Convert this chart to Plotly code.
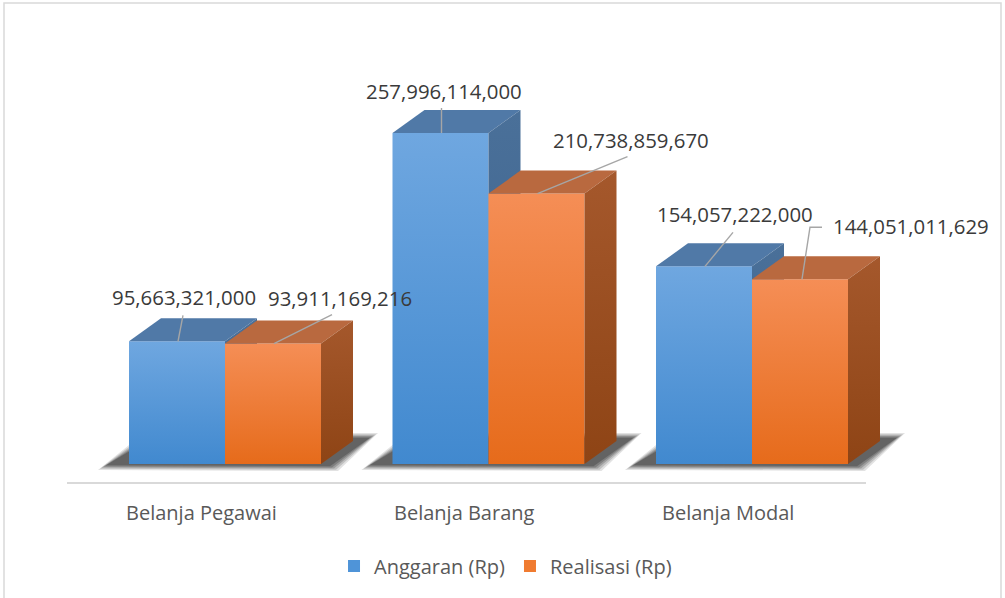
import plotly.graph_objects as go

# ---------------- data ----------------
categories = ["Belanja Pegawai", "Belanja Barang", "Belanja Modal"]
series_names = ["Anggaran (Rp)", "Realisasi (Rp)"]
anggaran = [95663321000, 257996114000, 154057222000]
realisasi = [93911169216, 210738859670, 144051011629]

# ---------------- layout / style constants ----------------
W, H = 1005, 598
PX_PER_X = 263.5          # pixels per category step
X0_PX = 225               # pixel of category 0
Y_PER_PX = 0.7794e9       # value units per pixel
Y0_PX = 464               # pixel of value 0
BAR_W_PX = 96
DEPTH_DX, DEPTH_DY = 32, 23

x_range = [(0 - X0_PX) / PX_PER_X, (W - X0_PX) / PX_PER_X]
y_range = [-(H - Y0_PX) * Y_PER_PX, Y0_PX * Y_PER_PX]

def ox(px):  # pixel offset -> x units
    return px / PX_PER_X

def oy(px):  # pixel offset (upward) -> y units
    return px * Y_PER_PX

def pxx(p):
    return (p - X0_PX) / PX_PER_X

def pxy(p):
    return (Y0_PX - p) * Y_PER_PX

styles = {
    "Anggaran (Rp)": dict(front=("#4189cf", "#6fa7e0"), top="#5079a7",
                          side=("#3b618d", "#4a7099"), legend="#4f94d8"),
    "Realisasi (Rp)": dict(front=("#e66b1b", "#f58e56"), top="#b9693f",
                           side=("#8e4415", "#a5582c"), legend="#f07b30"),
}

# label offsets (px, relative to bar top-centre), leader line point offsets
label_style = [
    {"s": 0, "c": 0, "lab": (7, -44), "path": [(6, -26), (1, 0)]},
    {"s": 1, "c": 0, "lab": (67, -46), "path": [(59, -29), (1, 0)]},
    {"s": 0, "c": 1, "lab": (3, -42), "path": [(1, -25), (1, 0)]},
    {"s": 1, "c": 1, "lab": (94, -54), "path": [(91, -37), (1, 0)]},
    {"s": 0, "c": 2, "lab": (31, -52), "path": [(29, -34), (1, 0)]},
    {"s": 1, "c": 2, "lab": (111, -53), "path": [(22, -52), (10, -52), (2, 0)]},
]

fig = go.Figure()
bw = ox(BAR_W_PX)
dx, dy = ox(DEPTH_DX), oy(DEPTH_DY)
values = [anggaran, realisasi]

# ---------------- floor shadows (layered to fake a blur) ----------------
for i, cat in enumerate(categories):
    xl = i - bw
    xr = i + bw
    for g, op in [(5, 0.12), (3, 0.16), (1, 0.2), (-1, 0.22), (-3, 0.25)]:
        xs = [xl + ox(-26 - g), xr + ox(12 + g), xr + dx + ox(20 + g), xl + dx + ox(-12 - g)]
        ys = [oy(-3 - g * 0.6), oy(-4 - g * 0.6), dy + oy(5 + g * 0.6), dy + oy(5 + g * 0.6)]
        fig.add_trace(go.Scatter(
            x=xs + [xs[0]], y=ys + [ys[0]], mode="lines", fill="toself",
            fillcolor=f"rgba(20,20,20,{op})", line=dict(width=0),
            hoverinfo="skip", showlegend=False))

# ---------------- 3D bars ----------------
for s, name in enumerate(series_names):
    st = styles[name]
    for i, v in enumerate(values[s]):
        xl = i - bw + s * bw
        xr = xl + bw
        # front face
        fig.add_trace(go.Scatter(
            x=[xl, xr, xr, xl, xl], y=[0, 0, v, v, 0], mode="lines", fill="toself",
            fillgradient=dict(type="vertical", colorscale=[[0, st["front"][0]], [1, st["front"][1]]]),
            line=dict(width=0), hoverinfo="skip", showlegend=False))
        # top face
        fig.add_trace(go.Scatter(
            x=[xl, xr, xr + dx, xl + dx, xl], y=[v, v, v + dy, v + dy, v], mode="lines",
            fill="toself", fillcolor=st["top"], line=dict(width=0),
            hoverinfo="skip", showlegend=False))
        # side face
        fig.add_trace(go.Scatter(
            x=[xr, xr, xr + dx, xr + dx, xr], y=[0, v, v + dy, dy, 0], mode="lines",
            fill="toself",
            fillgradient=dict(type="vertical", colorscale=[[0, st["side"][0]], [1, st["side"][1]]]),
            line=dict(width=0), hoverinfo="skip", showlegend=False))

# legend entries
for name in series_names:
    fig.add_trace(go.Scatter(
        x=[None], y=[None], mode="markers", name=name,
        marker=dict(symbol="square", size=12, color=styles[name]["legend"])))

# ---------------- data labels & leader lines ----------------
for ls in label_style:
    s, c = ls["s"], ls["c"]
    v = values[s][c]
    cx = c - bw / 2 + s * bw
    px_pts = ls["path"]
    fig.add_trace(go.Scatter(
        x=[cx + ox(p[0]) for p in px_pts], y=[v - oy(p[1]) for p in px_pts],
        mode="lines", line=dict(color="#a6a6a6", width=1.4),
        hoverinfo="skip", showlegend=False))
    fig.add_annotation(
        x=cx + ox(ls["lab"][0]), y=v - oy(ls["lab"][1]), text=f"{v:,}",
        showarrow=False, xanchor="center", yanchor="middle",
        font=dict(family="Open Sans", size=20.4, color="#3a3a3a"))

# ---------------- category axis ----------------
fig.add_shape(type="line", x0=pxx(67), x1=pxx(866), y0=pxy(483), y1=pxy(483),
              line=dict(color="#d9d9d9", width=2), layer="below")
for i, cat in enumerate(categories):
    fig.add_annotation(x=i + ox(-24), y=pxy(512), text=cat, showarrow=False,
                       xanchor="center", yanchor="middle",
                       font=dict(family="Open Sans", size=20, color="#595959"))

# outer border
fig.add_shape(type="rect", xref="paper", yref="paper",
              x0=4 / W, x1=1001 / W, y0=-0.02, y1=1 - 3 / H,
              line=dict(color="#d9d9d9", width=1.5), layer="below")

fig.update_layout(
    width=W, height=H,
    margin=dict(l=0, r=0, t=0, b=0),
    paper_bgcolor="white", plot_bgcolor="white",
    xaxis=dict(range=x_range, visible=False, fixedrange=True),
    yaxis=dict(range=y_range, visible=False, fixedrange=True),
    showlegend=True,
    legend=dict(orientation="h", x=0.503, xanchor="center", y=1 - 566 / H, yanchor="middle",
                font=dict(family="Open Sans", size=20, color="#595959"),
                itemwidth=30, tracegroupgap=0, bgcolor="rgba(0,0,0,0)"),
)

fig.write_html("out.html", config={"displayModeBar": False},
               post_script="document.body.style.margin='0px';")
